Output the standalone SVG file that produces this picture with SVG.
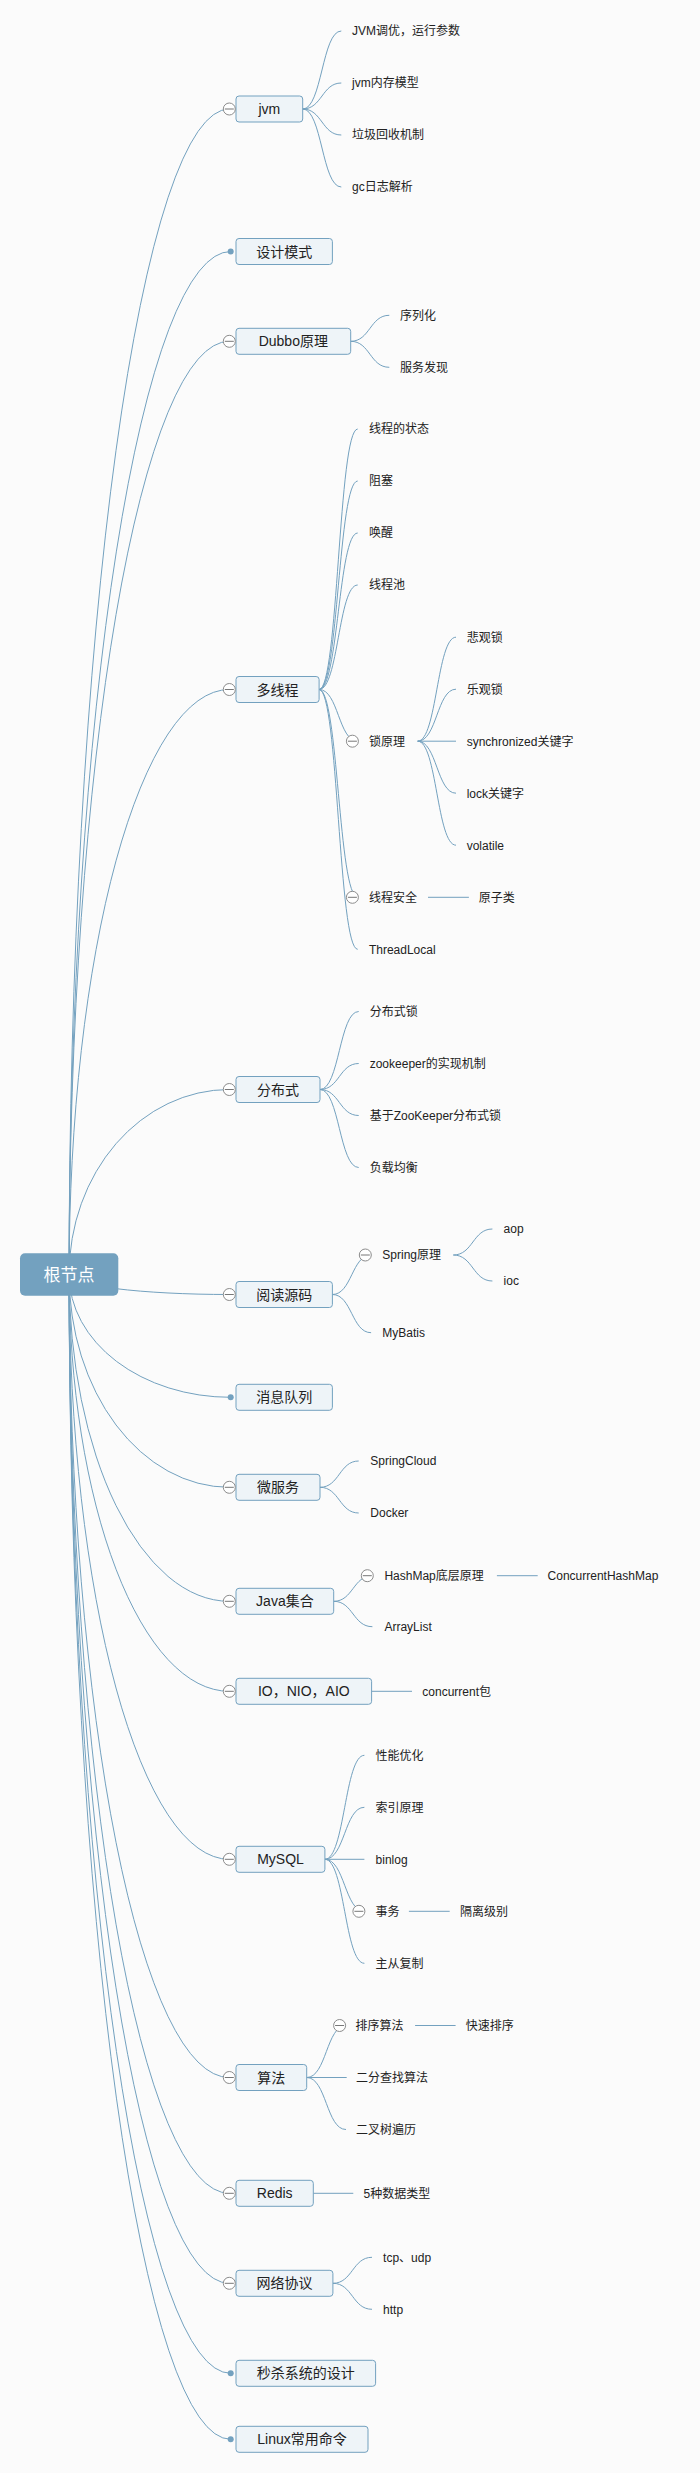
<svg xmlns="http://www.w3.org/2000/svg" width="700" height="2473" viewBox="0 0 700 2473">
<style>
.ln{fill:none;stroke:#73a1bf;stroke-width:1}
.box{fill:#eef4f8;stroke:#73a1bf;stroke-width:1}
.root{fill:#73a1bf}
.rt{font-family:"Liberation Sans","Noto Sans CJK SC",sans-serif;font-size:17px;fill:#fff;text-anchor:middle}
.mt{font-family:"Liberation Sans","Noto Sans CJK SC",sans-serif;font-size:14px;fill:#222;text-anchor:middle}
.st{font-family:"Liberation Sans","Noto Sans CJK SC",sans-serif;font-size:12px;fill:#222}
.exp{fill:#fff;stroke:#8c8c8c;stroke-width:1}
.minus{stroke:#777;stroke-width:1}
.dot{fill:#73a1bf}
</style>
<defs>
<g id="ex"><circle class="exp" cx="0" cy="0" r="6"/><line class="minus" x1="-4.5" y1="0" x2="4.5" y2="0"/></g>
</defs>
<rect x="0" y="0" width="700" height="2473" fill="#fbfbfb"/>
<g id="connectors">
<path class="ln" d="M69.1 1274.5 A160.2 1165.5 0 0 1 229.3 109"/>
<path class="ln" d="M69.1 1274.5 A161.6 1023 0 0 1 230.7 251.5"/>
<path class="ln" d="M69.1 1274.5 A160.2 933.2 0 0 1 229.3 341.3"/>
<path class="ln" d="M69.1 1274.5 A160.2 585 0 0 1 229.3 689.5"/>
<path class="ln" d="M69.1 1274.5 A160.2 185 0 0 1 229.3 1089.5"/>
<path class="ln" d="M69.1 1274.5 A160.2 20 0 0 0 229.3 1294.5"/>
<path class="ln" d="M69.1 1274.5 A161.6 122.8 0 0 0 230.7 1397.3"/>
<path class="ln" d="M69.1 1274.5 A160.2 212.8 0 0 0 229.3 1487.3"/>
<path class="ln" d="M69.1 1274.5 A160.2 326.8 0 0 0 229.3 1601.3"/>
<path class="ln" d="M69.1 1274.5 A160.2 416.8 0 0 0 229.3 1691.3"/>
<path class="ln" d="M69.1 1274.5 A160.2 584.8 0 0 0 229.3 1859.3"/>
<path class="ln" d="M69.1 1274.5 A160.2 803 0 0 0 229.3 2077.5"/>
<path class="ln" d="M69.1 1274.5 A160.2 918.8 0 0 0 229.3 2193.3"/>
<path class="ln" d="M69.1 1274.5 A160.2 1008.8 0 0 0 229.3 2283.3"/>
<path class="ln" d="M69.1 1274.5 A161.6 1098.8 0 0 0 230.7 2373.3"/>
<path class="ln" d="M69.1 1274.5 A161.6 1164.8 0 0 0 230.7 2439.3"/>
<path class="ln" d="M302.7 109 C322 109 322 31 341.3 31"/>
<path class="ln" d="M302.7 109 C322 109 322 83 341.3 83"/>
<path class="ln" d="M302.7 109 C322 109 322 135 341.3 135"/>
<path class="ln" d="M302.7 109 C322 109 322 187 341.3 187"/>
<path class="ln" d="M350.7 341.3 C370 341.3 370 315.3 389.3 315.3"/>
<path class="ln" d="M350.7 341.3 C370 341.3 370 367.3 389.3 367.3"/>
<path class="ln" d="M319.1 689.5 C338.4 689.5 338.4 429 357.7 429"/>
<path class="ln" d="M319.1 689.5 C338.4 689.5 338.4 481 357.7 481"/>
<path class="ln" d="M319.1 689.5 C338.4 689.5 338.4 533 357.7 533"/>
<path class="ln" d="M319.1 689.5 C338.4 689.5 338.4 585 357.7 585"/>
<path class="ln" d="M319.1 689.5 C338.4 689.5 338.4 741.2 357.7 741.2"/>
<path class="ln" d="M319.1 689.5 C338.4 689.5 338.4 897.3 357.7 897.3"/>
<path class="ln" d="M319.1 689.5 C338.4 689.5 338.4 949.3 357.7 949.3"/>
<path class="ln" d="M417.7 741.2 C436.9 741.2 436.9 637.2 456 637.2"/>
<path class="ln" d="M417.7 741.2 C436.9 741.2 436.9 689.2 456 689.2"/>
<path class="ln" d="M417.7 741.2 L456 741.2"/>
<path class="ln" d="M417.7 741.2 C436.9 741.2 436.9 793.2 456 793.2"/>
<path class="ln" d="M417.7 741.2 C436.9 741.2 436.9 845.2 456 845.2"/>
<path class="ln" d="M428 897.3 L468.9 897.3"/>
<path class="ln" d="M320 1089.5 C339.4 1089.5 339.4 1011.5 358.7 1011.5"/>
<path class="ln" d="M320 1089.5 C339.4 1089.5 339.4 1063.5 358.7 1063.5"/>
<path class="ln" d="M320 1089.5 C339.4 1089.5 339.4 1115.5 358.7 1115.5"/>
<path class="ln" d="M320 1089.5 C339.4 1089.5 339.4 1167.5 358.7 1167.5"/>
<path class="ln" d="M332.4 1294.5 C351.8 1294.5 351.8 1255 371.1 1255"/>
<path class="ln" d="M332.4 1294.5 C351.8 1294.5 351.8 1332.7 371.1 1332.7"/>
<path class="ln" d="M453.3 1255 C472.9 1255 472.9 1229 492.4 1229"/>
<path class="ln" d="M453.3 1255 C472.9 1255 472.9 1281 492.4 1281"/>
<path class="ln" d="M320 1487.3 C339.4 1487.3 339.4 1461 358.7 1461"/>
<path class="ln" d="M320 1487.3 C339.4 1487.3 339.4 1513 358.7 1513"/>
<path class="ln" d="M333.7 1601.3 C353.1 1601.3 353.1 1575.7 372.4 1575.7"/>
<path class="ln" d="M333.7 1601.3 C353.1 1601.3 353.1 1626.7 372.4 1626.7"/>
<path class="ln" d="M496.9 1575.7 L537.7 1575.7"/>
<path class="ln" d="M371.6 1691.3 L412 1691.3"/>
<path class="ln" d="M324.9 1859.3 C344.7 1859.3 344.7 1755.3 364.4 1755.3"/>
<path class="ln" d="M324.9 1859.3 C344.7 1859.3 344.7 1807.3 364.4 1807.3"/>
<path class="ln" d="M324.9 1859.3 L364.4 1859.3"/>
<path class="ln" d="M324.9 1859.3 C344.7 1859.3 344.7 1911.3 364.4 1911.3"/>
<path class="ln" d="M324.9 1859.3 C344.7 1859.3 344.7 1963.3 364.4 1963.3"/>
<path class="ln" d="M408.9 1911.3 L449.7 1911.3"/>
<path class="ln" d="M306.7 2077.5 C326.4 2077.5 326.4 2025.5 346 2025.5"/>
<path class="ln" d="M306.7 2077.5 L346.7 2077.5"/>
<path class="ln" d="M306.7 2077.5 C326.4 2077.5 326.4 2129.5 346 2129.5"/>
<path class="ln" d="M415.1 2025.5 L455.6 2025.5"/>
<path class="ln" d="M313.3 2193.3 L353.3 2193.3"/>
<path class="ln" d="M332.9 2283.3 C352.5 2283.3 352.5 2257.3 372 2257.3"/>
<path class="ln" d="M332.9 2283.3 C352.5 2283.3 352.5 2309.3 372 2309.3"/>
</g>

<g id="root">
<rect class="root" x="20" y="1253.3" width="98.3" height="42.4" rx="5"/>
<text class="rt" x="69.1" y="1280.5">根节点</text>
</g>

<g id="n-jvm">
<rect class="box" x="236" y="96" width="66.7" height="26" rx="3"/>
<text class="mt" x="269.3" y="114">jvm</text>
<use href="#ex" x="229.3" y="109"/>
<text class="st" x="352" y="35.3">JVM调优，运行参数</text>
<text class="st" x="352" y="87.3">jvm内存模型</text>
<text class="st" x="352" y="139.3">垃圾回收机制</text>
<text class="st" x="352" y="191.3">gc日志解析</text>
</g>

<g id="n-design">
<rect class="box" x="236" y="238.5" width="96.4" height="26" rx="3"/>
<text class="mt" x="284.2" y="256.5">设计模式</text>
<circle class="dot" cx="230.7" cy="251.5" r="3"/>
</g>

<g id="n-dubbo">
<rect class="box" x="236" y="328.3" width="114.7" height="26" rx="3"/>
<text class="mt" x="293.3" y="346.3">Dubbo原理</text>
<use href="#ex" x="229.3" y="341.3"/>
<text class="st" x="400" y="319.6">序列化</text>
<text class="st" x="400" y="371.6">服务发现</text>
</g>

<g id="n-thread">
<rect class="box" x="236" y="676.5" width="83.1" height="26" rx="3"/>
<text class="mt" x="277.5" y="694.5">多线程</text>
<use href="#ex" x="229.3" y="689.5"/>
<text class="st" x="368.9" y="433.3">线程的状态</text>
<text class="st" x="368.9" y="485.3">阻塞</text>
<text class="st" x="368.9" y="537.3">唤醒</text>
<text class="st" x="368.9" y="589.3">线程池</text>
<use href="#ex" x="352.4" y="741.2"/>
<text class="st" x="368.9" y="745.5">锁原理</text>
<text class="st" x="466.7" y="641.5">悲观锁</text>
<text class="st" x="466.7" y="693.5">乐观锁</text>
<text class="st" x="466.7" y="745.5">synchronized关键字</text>
<text class="st" x="466.7" y="797.5">lock关键字</text>
<text class="st" x="466.7" y="849.5">volatile</text>
<use href="#ex" x="352.4" y="897.3"/>
<text class="st" x="368.9" y="901.6">线程安全</text>
<text class="st" x="478.7" y="901.6">原子类</text>
<text class="st" x="368.9" y="953.6">ThreadLocal</text>
</g>

<g id="n-dist">
<rect class="box" x="236" y="1076.5" width="84" height="26" rx="3"/>
<text class="mt" x="278" y="1094.5">分布式</text>
<use href="#ex" x="229.3" y="1089.5"/>
<text class="st" x="369.7" y="1015.8">分布式锁</text>
<text class="st" x="369.7" y="1067.8">zookeeper的实现机制</text>
<text class="st" x="369.7" y="1119.8">基于ZooKeeper分布式锁</text>
<text class="st" x="369.7" y="1171.8">负载均衡</text>
</g>

<g id="n-source">
<rect class="box" x="236" y="1281.5" width="96.4" height="26" rx="3"/>
<text class="mt" x="284.2" y="1299.5">阅读源码</text>
<use href="#ex" x="229.3" y="1294.5"/>
<use href="#ex" x="365.3" y="1255"/>
<text class="st" x="382.3" y="1259.3">Spring原理</text>
<text class="st" x="503.6" y="1233.3">aop</text>
<text class="st" x="503.6" y="1285.3">ioc</text>
<text class="st" x="382.3" y="1337">MyBatis</text>
</g>

<g id="n-mq">
<rect class="box" x="236" y="1384.3" width="96.4" height="26" rx="3"/>
<text class="mt" x="284.2" y="1402.3">消息队列</text>
<circle class="dot" cx="230.7" cy="1397.3" r="3"/>
</g>

<g id="n-micro">
<rect class="box" x="236" y="1474.3" width="84" height="26" rx="3"/>
<text class="mt" x="278" y="1492.3">微服务</text>
<use href="#ex" x="229.3" y="1487.3"/>
<text class="st" x="370.3" y="1465.3">SpringCloud</text>
<text class="st" x="370.3" y="1517.3">Docker</text>
</g>

<g id="n-java">
<rect class="box" x="236" y="1588.3" width="97.7" height="26" rx="3"/>
<text class="mt" x="284.9" y="1606.3">Java集合</text>
<use href="#ex" x="229.3" y="1601.3"/>
<use href="#ex" x="367.3" y="1575.7"/>
<text class="st" x="384.4" y="1580">HashMap底层原理</text>
<text class="st" x="547.6" y="1580">ConcurrentHashMap</text>
<text class="st" x="384.4" y="1631">ArrayList</text>
</g>

<g id="n-io">
<rect class="box" x="236" y="1678.3" width="135.6" height="26" rx="3"/>
<text class="mt" x="303.8" y="1696.3">IO，NIO，AIO</text>
<use href="#ex" x="229.3" y="1691.3"/>
<text class="st" x="422.3" y="1695.6">concurrent包</text>
</g>

<g id="n-mysql">
<rect class="box" x="236" y="1846.3" width="88.9" height="26" rx="3"/>
<text class="mt" x="280.5" y="1864.3">MySQL</text>
<use href="#ex" x="229.3" y="1859.3"/>
<text class="st" x="375.6" y="1759.6">性能优化</text>
<text class="st" x="375.6" y="1811.6">索引原理</text>
<text class="st" x="375.6" y="1863.6">binlog</text>
<use href="#ex" x="358.9" y="1911.3"/>
<text class="st" x="375.6" y="1915.6">事务</text>
<text class="st" x="460" y="1915.6">隔离级别</text>
<text class="st" x="375.6" y="1967.6">主从复制</text>
</g>

<g id="n-algo">
<rect class="box" x="236" y="2064.5" width="70.7" height="26" rx="3"/>
<text class="mt" x="271.3" y="2082.5">算法</text>
<use href="#ex" x="229.3" y="2077.5"/>
<use href="#ex" x="339.6" y="2025.5"/>
<text class="st" x="355.6" y="2029.8">排序算法</text>
<text class="st" x="465.7" y="2029.8">快速排序</text>
<text class="st" x="356" y="2081.8">二分查找算法</text>
<text class="st" x="356" y="2133.8">二叉树遍历</text>
</g>

<g id="n-redis">
<rect class="box" x="236" y="2180.3" width="77.3" height="26" rx="3"/>
<text class="mt" x="274.7" y="2198.3">Redis</text>
<use href="#ex" x="229.3" y="2193.3"/>
<text class="st" x="363.6" y="2197.6">5种数据类型</text>
</g>

<g id="n-net">
<rect class="box" x="236" y="2270.3" width="96.9" height="26" rx="3"/>
<text class="mt" x="284.5" y="2288.3">网络协议</text>
<use href="#ex" x="229.3" y="2283.3"/>
<text class="st" x="383.1" y="2261.6">tcp、udp</text>
<text class="st" x="383.1" y="2313.6">http</text>
</g>

<g id="n-seckill">
<rect class="box" x="236" y="2360.3" width="139.6" height="26" rx="3"/>
<text class="mt" x="305.8" y="2378.3">秒杀系统的设计</text>
<circle class="dot" cx="230.7" cy="2373.3" r="3"/>
</g>

<g id="n-linux">
<rect class="box" x="236" y="2426.3" width="132" height="26" rx="3"/>
<text class="mt" x="302" y="2444.3">Linux常用命令</text>
<circle class="dot" cx="230.7" cy="2439.3" r="3"/>
</g>
</svg>
